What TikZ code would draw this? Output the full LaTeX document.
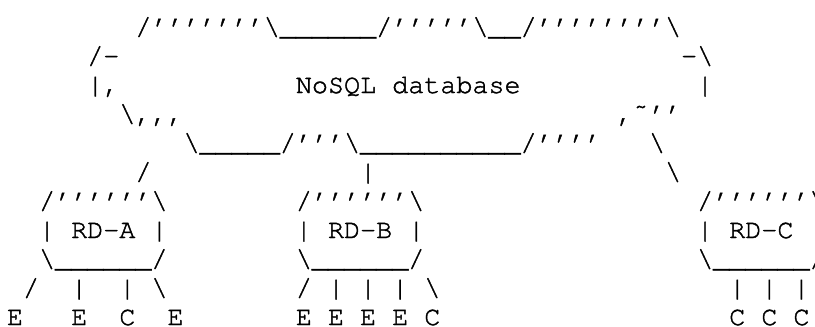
\documentclass[tikz,border=0pt]{standalone}
\usepackage{fontspec}
\IfFontExistsTF{texgyrecursor-regular.otf}
  {\newfontfamily\asciifont[FakeBold=1.5]{texgyrecursor-regular.otf}}
  {\newfontfamily\asciifont{Liberation Mono}}
% character grid: column width and line pitch
\newcommand\colw{16.05}
\newcommand\rowh{29}
\tikzset{
  glyph/.style={anchor=base west, inner sep=0pt, outer sep=0pt,
    font=\asciifont\fontsize{26.75pt}{29pt}\selectfont, text=black},
}
% \txt{name}{column}{row}{characters}
\newcommand\txt[4]{\node[glyph] (#1) at ({(7+#2*\colw)*1pt},{(-35-#3*\rowh)*1pt}) {#4};}
\newcommand\bs{\textbackslash}
\newcommand\us{\_}
\begin{document}
\begin{tikzpicture}
\useasboundingbox[fill=white] (0,0) rectangle (815pt,-327pt);
% cloud outline
\txt{cloudtop}{8}{0}{/’’’’’’’\bs\us\us\us\us\us\us/’’’’’\bs\us\us/’’’’’’’’\bs}
\txt{cloudnw}{5}{1}{/-}
\txt{cloudne}{42}{1}{-\bs}
\txt{cloudw}{5}{2}{|,}
\txt{nosql}{18}{2}{NoSQL database}
\txt{cloude}{43}{2}{|}
\txt{cloudsw}{7}{3}{\bs,,,}
\txt{cloudse}{38}{3}{,\symbol{"02DC}’’}
\txt{cloudbot}{11}{4}{\bs\us\us\us\us\us/’’’\bs\us\us\us\us\us\us\us\us\us\us/’’’’}
\txt{linkc1}{40}{4}{\bs}
% links to the RD boxes
\txt{linka}{8}{5}{/}
\txt{linkb}{22}{5}{|}
\txt{linkc2}{41}{5}{\bs}
% RD boxes
\txt{rdatop}{2}{6}{/’’’’’’\bs}
\txt{rdbtop}{18}{6}{/’’’’’’\bs}
\txt{rdctop}{43}{6}{/’’’’’’\bs}
\txt{rdal}{2}{7}{|}
\txt{rda}{4}{7}{RD-A}
\txt{rdar}{9}{7}{|}
\txt{rdbl}{18}{7}{|}
\txt{rdb}{20}{7}{RD-B}
\txt{rdbr}{25}{7}{|}
\txt{rdcl}{43}{7}{|}
\txt{rdc}{45}{7}{RD-C}
\txt{rdcr}{50}{7}{|}
\txt{rdabot}{2}{8}{\bs\us\us\us\us\us\us/}
\txt{rdbbot}{18}{8}{\bs\us\us\us\us\us\us/}
\txt{rdcbot}{43}{8}{\bs\us\us\us\us\us\us/}
% leaf links
\txt{la1}{1}{9}{/}
\txt{la2}{4}{9}{|}
\txt{la3}{7}{9}{|}
\txt{la4}{9}{9}{\bs}
\txt{lb1}{18}{9}{/}
\txt{lb2}{20}{9}{|}
\txt{lb3}{22}{9}{|}
\txt{lb4}{24}{9}{|}
\txt{lb5}{26}{9}{\bs}
\txt{lc1}{45}{9}{|}
\txt{lc2}{47}{9}{|}
\txt{lc3}{49}{9}{|}
% leaves
\txt{ea1}{0}{10}{E}
\txt{ea2}{4}{10}{E}
\txt{ca3}{7}{10}{C}
\txt{ea4}{10}{10}{E}
\txt{eb1}{18}{10}{E}
\txt{eb2}{20}{10}{E}
\txt{eb3}{22}{10}{E}
\txt{eb4}{24}{10}{E}
\txt{cb5}{26}{10}{C}
\txt{cc1}{45}{10}{C}
\txt{cc2}{47}{10}{C}
\txt{cc3}{49}{10}{C}
\end{tikzpicture}
\end{document}
